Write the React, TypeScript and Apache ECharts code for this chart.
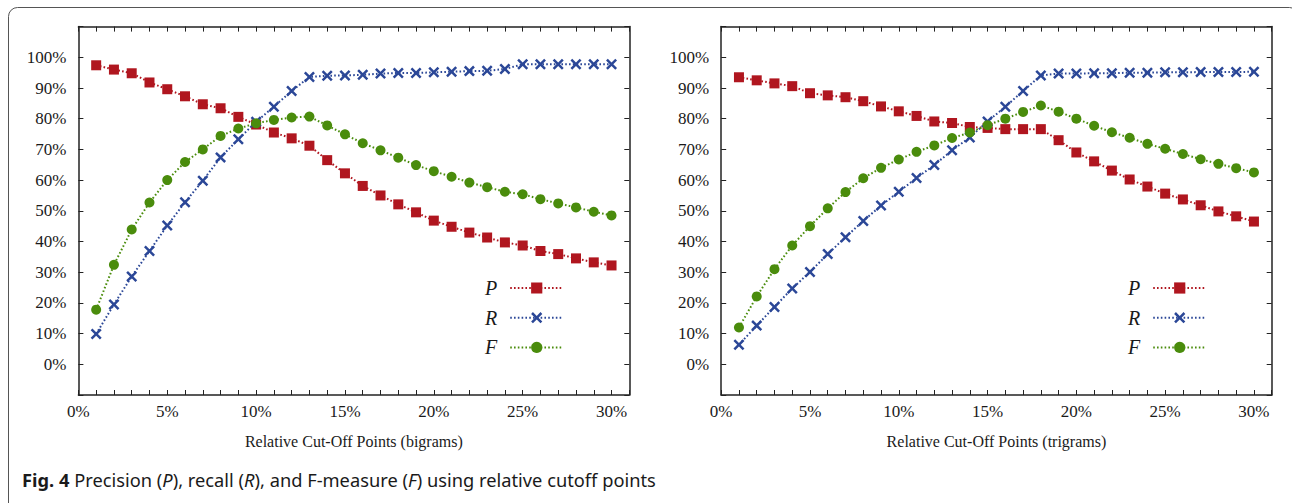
import React, { useEffect, useRef } from "react";
import * as echarts from "echarts";

const xValues = [1, 2, 3, 4, 5, 6, 7, 8, 9, 10, 11, 12, 13, 14, 15, 16, 17, 18, 19, 20, 21, 22, 23, 24, 25, 26, 27, 28, 29, 30];

const bigramP = [97.4, 96.0, 94.8, 91.8, 89.6, 87.3, 84.7, 83.4, 80.6, 78.1, 75.5, 73.6, 71.2, 66.5, 62.2, 58.1, 55.0, 52.1, 49.5, 46.8, 44.8, 42.9, 41.3, 39.7, 38.7, 36.9, 35.9, 34.5, 33.2, 32.2];
const bigramR = [9.9, 19.5, 28.6, 36.9, 45.2, 52.8, 59.8, 67.4, 73.3, 79.0, 83.9, 89.0, 93.6, 94.0, 94.1, 94.3, 94.7, 94.9, 94.9, 95.1, 95.3, 95.5, 95.6, 96.2, 97.7, 97.7, 97.7, 97.7, 97.7, 97.7];
const bigramF = [17.8, 32.4, 43.9, 52.7, 60.0, 65.9, 70.0, 74.4, 76.8, 78.5, 79.6, 80.4, 80.7, 77.8, 74.9, 72.0, 69.7, 67.3, 64.9, 62.9, 61.1, 59.2, 57.7, 56.2, 55.4, 53.8, 52.4, 51.1, 49.7, 48.5];

const trigramP = [93.5, 92.5, 91.5, 90.6, 88.3, 87.6, 87.0, 85.7, 84.0, 82.4, 80.9, 79.1, 78.6, 77.3, 77.0, 76.6, 76.6, 76.6, 73.0, 69.0, 66.1, 63.1, 60.2, 57.9, 55.6, 53.7, 51.8, 49.8, 48.2, 46.5];
const trigramR = [6.4, 12.6, 18.7, 24.7, 30.1, 35.9, 41.4, 46.7, 51.7, 56.2, 60.7, 64.9, 69.7, 73.9, 79.1, 83.9, 89.0, 94.1, 94.7, 94.7, 94.8, 94.8, 95.0, 95.0, 95.1, 95.1, 95.2, 95.2, 95.2, 95.3];
const trigramF = [12.0, 22.1, 31.0, 38.7, 45.0, 50.8, 56.1, 60.6, 64.0, 66.7, 69.2, 71.3, 73.7, 75.5, 77.9, 80.0, 82.2, 84.3, 82.3, 80.0, 77.7, 75.6, 73.8, 71.8, 70.2, 68.5, 66.8, 65.3, 63.9, 62.5];

const seriesNames = ["P", "R", "F"];
const xTitles = ["Relative Cut-Off Points (bigrams)", "Relative Cut-Off Points (trigrams)"];
const captionParts = [
  { t: "Fig. 4", s: "b" },
  { t: " Precision (", s: "n" },
  { t: "P", s: "i" },
  { t: "), recall (", s: "n" },
  { t: "R", s: "i" },
  { t: "), and F-measure (", s: "n" },
  { t: "F", s: "i" },
  { t: ") using relative cutoff points", s: "n" },
];

const COLORS = { P: "#B0161F", R: "#2B4797", F: "#4A8C0C" };
const CROSS = "path://M1.6,0 L5,3.4 L8.4,0 L10,1.6 L6.6,5 L10,8.4 L8.4,10 L5,6.6 L1.6,10 L0,8.4 L3.4,5 L0,1.6 Z";
const SERIF = "'Liberation Serif', 'Times New Roman', serif";
const CAP_FONT = "Noto Sans";
const CAP_SIZE = 18;

export default function App() {
  const ref = useRef<HTMLDivElement>(null);

  useEffect(() => {
    if (!ref.current) return;
    const chart = echarts.init(ref.current, undefined, { renderer: "svg" });

    const grids = [
      { left: 78.4, top: 26.6, width: 550.9, height: 368.4 },
      { left: 721.2, top: 26.6, width: 550.5, height: 368.4 },
    ];

    const axisLine = { show: true, onZero: false, lineStyle: { color: "#222", width: 1.5 } };
    const tick = { show: true, inside: true, length: 5, lineStyle: { color: "#222", width: 1 } };
    const serifRich = { s: { fontFamily: SERIF, fontSize: 17, color: "#1a1a1a" } };

    const xAxes: any[] = [];
    const yAxes: any[] = [];
    [0, 1].forEach((g) => {
      xAxes.push({
        type: "value", gridIndex: g, position: "bottom", min: 0, max: 31, interval: 1,
        axisLine, axisTick: tick, splitLine: { show: false },
        axisLabel: {
          fontFamily: SERIF, fontSize: 17, color: "#1a1a1a", margin: 8, rich: serifRich,
          formatter: (v: number) => (v % 5 === 0 && v <= 30 ? `{s|${v}%}` : ""),
        },
        name: xTitles[g], nameLocation: "middle", nameGap: 38,
        nameTextStyle: { fontFamily: SERIF, fontSize: 16, color: "#1a1a1a" },
      });
      xAxes.push({
        type: "value", gridIndex: g, position: "top", min: 0, max: 31, interval: 1,
        axisLine, axisTick: tick, splitLine: { show: false }, axisLabel: { show: false },
      });
      yAxes.push({
        type: "value", gridIndex: g, position: "left", min: -10, max: 110, interval: 10,
        axisLine, axisTick: tick, splitLine: { show: false },
        axisLabel: {
          fontFamily: SERIF, fontSize: 17, color: "#1a1a1a", margin: 12, rich: serifRich,
          formatter: (v: number) => (v >= 0 && v <= 100 ? `{s|${v}%}` : ""),
        },
      });
      yAxes.push({
        type: "value", gridIndex: g, position: "right", min: -10, max: 110, interval: 10,
        axisLine, axisTick: tick, splitLine: { show: false }, axisLabel: { show: false },
      });
    });

    const datasets = [
      [bigramP, bigramR, bigramF],
      [trigramP, trigramR, trigramF],
    ];
    const symbols = ["rect", CROSS, "circle"];
    const sizes = [10, 11, 10];

    const series: any[] = [];
    datasets.forEach((set, g) => {
      set.forEach((vals, k) => {
        const name = seriesNames[k];
        const color = (COLORS as any)[name];
        series.push({
          type: "line", name, xAxisIndex: g * 2, yAxisIndex: g * 2,
          data: xValues.map((x, i) => [x, vals[i]]),
          symbol: symbols[k], symbolSize: sizes[k], showSymbol: true,
          itemStyle: { color },
          lineStyle: { color, width: 2, type: [1.6, 2.2], cap: "butt" },
          z: 2 + k,
        });
      });
    });

    const legendBase = {
      orient: "vertical", top: 273, align: "right", itemWidth: 53, itemHeight: 14, itemGap: 9.7,
      data: seriesNames, selectedMode: false,
      formatter: (name: string) => `{i|${name}}`,
      textStyle: {
        fontFamily: SERIF, fontStyle: "italic", fontSize: 20, color: "#1a1a1a", padding: [0, 8, 0, 0],
        rich: { i: { fontFamily: SERIF, fontStyle: "italic", fontSize: 20, color: "#1a1a1a" } },
      },
    };

    let scaleX = 1;
    try {
      const ctx = document.createElement("canvas").getContext("2d");
      if (ctx) {
        let total = 0;
        captionParts.forEach((p) => {
          const style = p.s === "b" ? "bold " : p.s === "i" ? "italic " : "";
          ctx.font = `${style}${CAP_SIZE}px "${CAP_FONT}"`;
          total += ctx.measureText(p.t).width;
        });
        if (total > 0) scaleX = 634 / total;
      }
    } catch (e) {}

    const captionText = captionParts.map((p) => `{${p.s}|${p.t}}`).join("");

    chart.setOption({
      animation: false,
      backgroundColor: "#ffffff",
      textStyle: { fontFamily: SERIF },
      grid: grids,
      xAxis: xAxes,
      yAxis: yAxes,
      series,
      legend: [
        { ...legendBase, left: 480 },
        { ...legendBase, left: 1123 },
      ],
      graphic: [
        {
          type: "rect", silent: true, z: 0,
          shape: { x: 8.5, y: 7.5, width: 1290, height: 530, r: 9 },
          style: { fill: "none", stroke: "#555", lineWidth: 1 },
        },
        {
          type: "text", x: 22, y: 480, scaleX, silent: true,
          style: {
            text: captionText, verticalAlign: "middle", fill: "#1a1a1a",
            rich: {
              b: { fontFamily: CAP_FONT, fontSize: CAP_SIZE, fontWeight: "bold", fill: "#1a1a1a" },
              n: { fontFamily: CAP_FONT, fontSize: CAP_SIZE, fill: "#1a1a1a" },
              i: { fontFamily: CAP_FONT, fontSize: CAP_SIZE, fontStyle: "italic", fill: "#1a1a1a" },
            },
          },
        },
      ],
    });

    return () => chart.dispose();
  }, []);

  return <div ref={ref} style={{ position: "absolute", left: 0, top: 0, width: 1292, height: 503 }} />;
}
